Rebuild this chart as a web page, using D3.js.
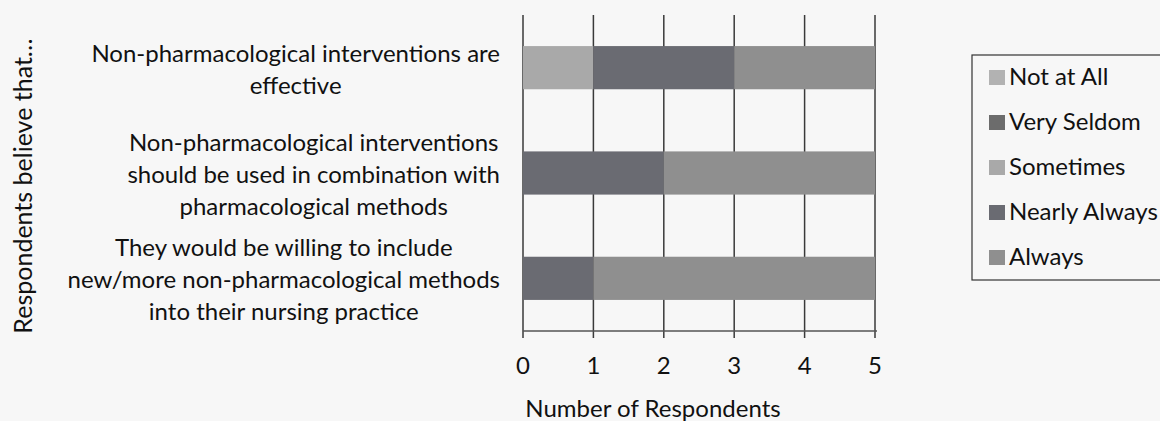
<!DOCTYPE html>
<html>
<head>
<meta charset="utf-8">
<script src="https://cdn.jsdelivr.net/npm/d3@7"></script>
<style>
  html, body { margin: 0; padding: 0; background: #f7f7f7; overflow: hidden; }
  svg text { font-family: Lato, 'Open Sans', sans-serif; fill: #111; }
</style>
</head>
<body>
<div id="d3-target"></div>
<script>
const categories = [
  ['Non-pharmacological interventions are', 'effective'],
  ['Non-pharmacological interventions', 'should be used in combination with', 'pharmacological methods'],
  ['They would be willing to include', 'new/more non-pharmacological methods', 'into their nursing practice']
];
const seriesNames = ['Not at All', 'Very Seldom', 'Sometimes', 'Nearly Always', 'Always'];
const notAtAll = [0, 0, 0];
const verySeldom = [0, 0, 0];
const sometimes = [1, 0, 0];
const nearlyAlways = [2, 2, 1];
const always = [2, 3, 4];
const xTicks = [0, 1, 2, 3, 4, 5];

const colors = ['#b2b2b2', '#6c6c6c', '#a9a9a9', '#6a6b72', '#8f8f8f'];

const width = 1160, height = 421;
const plot = {left: 523, right: 875, top: 15, bottom: 331};
const fs = 24;

const keys = categories.map((c, i) => 'c' + i);
const rows = keys.map((k, i) => ({
  key: k,
  values: [notAtAll[i], verySeldom[i], sometimes[i], nearlyAlways[i], always[i]]
}));

const x = d3.scaleLinear()
  .domain([0, 5])
  .range([plot.left, plot.right]);

const y = d3.scaleBand()
  .domain(keys)
  .range([plot.top, plot.bottom])
  .paddingInner(0.59)
  .paddingOuter(0.295);

const svg = d3.select('#d3-target')
  .append('svg')
  .attr('width', width)
  .attr('height', height);

// vertical gridlines (they run down past the axis as ticks)
svg.append('g')
  .selectAll('line')
  .data(xTicks)
  .enter().append('line')
    .attr('x1', d => x(d))
    .attr('x2', d => x(d))
    .attr('y1', plot.top)
    .attr('y2', plot.bottom + 7)
    .attr('stroke', '#3a3a3a')
    .attr('stroke-width', 1.5);

// stacked bars
rows.forEach(r => {
  let acc = 0;
  const segs = r.values.map((v, i) => {
    const s = {x0: acc, x1: acc + v, i};
    acc += v;
    return s;
  }).filter(s => s.x1 > s.x0);
  svg.append('g')
    .selectAll('rect')
    .data(segs)
    .enter().append('rect')
      .attr('x', d => x(d.x0))
      .attr('width', d => x(d.x1) - x(d.x0))
      .attr('y', y(r.key))
      .attr('height', y.bandwidth())
      .attr('fill', d => colors[d.i]);
});

// bottom axis line
svg.append('line')
  .attr('x1', plot.left)
  .attr('x2', plot.right + 2)
  .attr('y1', plot.bottom)
  .attr('y2', plot.bottom)
  .attr('stroke', '#555')
  .attr('stroke-width', 1.5);

// tick labels
svg.append('g')
  .selectAll('text')
  .data(xTicks)
  .enter().append('text')
    .attr('x', d => x(d))
    .attr('y', 374)
    .attr('text-anchor', 'middle')
    .attr('font-size', fs)
    .text(d => d);

svg.append('text')
  .attr('x', 653)
  .attr('y', 417)
  .attr('text-anchor', 'middle')
  .attr('font-size', fs)
  .text('Number of Respondents');

svg.append('text')
  .attr('transform', 'translate(32,186) rotate(-90)')
  .attr('text-anchor', 'middle')
  .attr('font-size', 25)
  .text('Respondents believe that…');

// category labels: block right-aligned at 500, lines centred in block
const lineH = 32;
categories.forEach((lines, i) => {
  const g = svg.append('g');
  const cy = y(keys[i]) + y.bandwidth() / 2 + 2;
  const texts = g.selectAll('text')
    .data(lines)
    .enter().append('text')
      .attr('font-size', fs)
      .attr('text-anchor', 'middle')
      .attr('y', (d, j) => cy + (j - (lines.length - 1) / 2) * lineH + 8)
      .text(d => d);
  let maxW = 0;
  texts.each(function() { maxW = Math.max(maxW, this.getComputedTextLength()); });
  texts.attr('x', 500 - maxW / 2);
});

// legend (its right edge runs off the picture, as in the scan)
const legend = svg.append('g');
legend.append('rect')
  .attr('x', 972)
  .attr('y', 55)
  .attr('width', 200)
  .attr('height', 225)
  .attr('fill', 'none')
  .attr('stroke', '#333')
  .attr('stroke-width', 1.2);

const items = legend.selectAll('.legend-line')
  .data(seriesNames)
  .enter().append('g')
    .attr('class', 'legend-line')
    .attr('transform', (d, i) => `translate(989, ${77 + i * 45})`);
items.append('rect')
  .attr('x', 0)
  .attr('y', -7)
  .attr('width', 16)
  .attr('height', 15)
  .attr('fill', (d, i) => colors[i]);
items.append('text')
  .attr('x', 20)
  .attr('y', 8)
  .attr('font-size', fs)
  .text(d => d);
</script>
</body>
</html>
